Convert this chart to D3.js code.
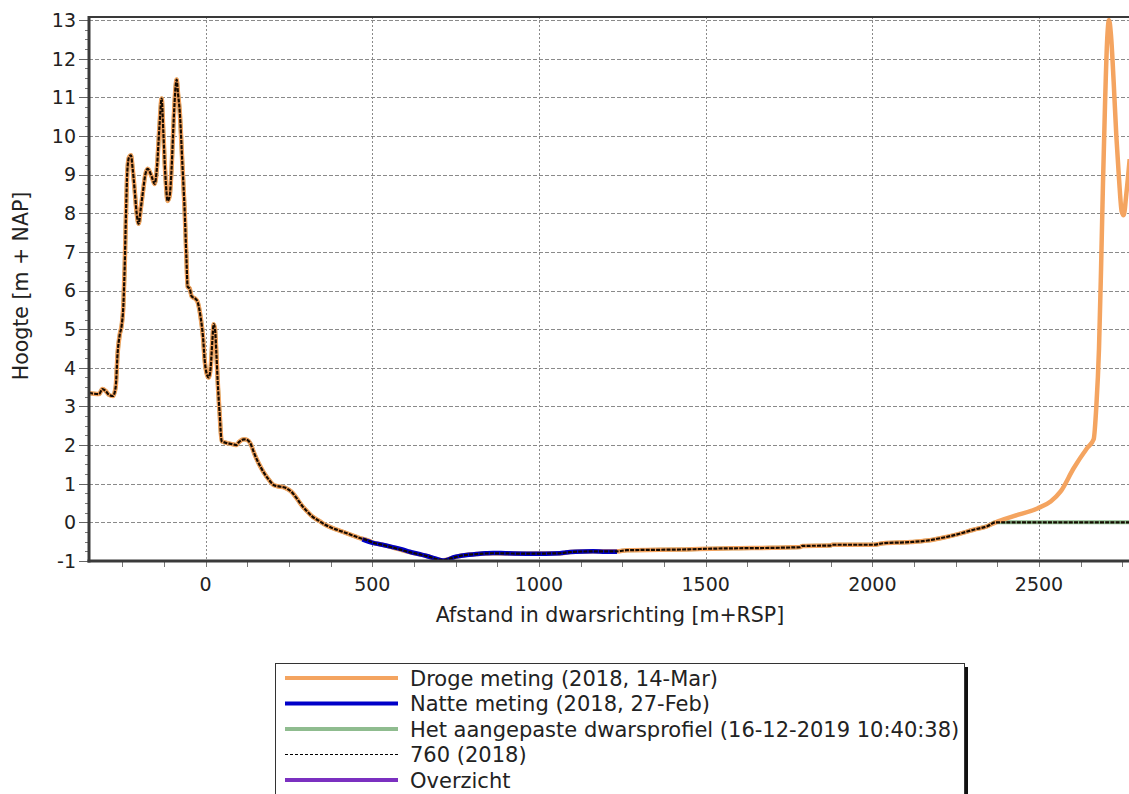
<!DOCTYPE html>
<html>
<head>
<meta charset="utf-8">
<script src="https://cdn.jsdelivr.net/npm/d3@7"></script>
<style>
  body { margin: 0; background: #fff; }
  svg text { font-family: "DejaVu Sans", Verdana, sans-serif; fill: #222; }
</style>
</head>
<body>
<svg id="chart" width="1129" height="794"></svg>
<script>
// Droge meting (2018, 14-Mar): afstand [m+RSP] en hoogte [m + NAP]
const drogeAfstand = [-350,-335,-320,-310,-300,-290,-278,-270,-264,-258,-252,-247,-243,-239,-235,-230,-224,-219,-213,-207,-201,-195,-189,-181,-174,-162,-153,-146,-139,-132,-127,-121,-114,-108,-102,-96,-90,-87,-83,-78,-70,-63,-58,-54,-48,-42,-30,-24,-15,-8,-3,3,9,15,20,24,28,32,36,42,48,65,82,92,100,115,125,135,145,155,165,175,190,205,220,237,250,262,275,290,305,320,342,360,381,410,432,460,490,500,530,561,612,663,712,740,762,813,862,963,1063,1093,1162,1234,1264,1362,1440,1520,1600,1700,1784,1790,1874,1880,2003,2033,2114,2165,2204,2255,2304,2345,2370,2424,2495,2535,2565,2604,2645,2664,2672,2680,2686,2692,2698,2704,2710,2716,2724,2732,2740,2748,2754,2762,2772];
const drogeHoogte  = [3.35,3.33,3.32,3.45,3.4,3.3,3.27,3.5,4.4,4.85,5.1,5.6,6.6,8.0,9.1,9.45,9.5,9.15,8.6,8.0,7.73,8.1,8.5,9.0,9.15,8.95,8.76,9.2,10.2,10.97,10.1,9.0,8.32,8.45,9.2,10.4,11.3,11.46,11.1,10.66,9.3,8.06,6.9,6.1,6.05,5.85,5.78,5.7,5.3,4.8,4.2,3.85,3.75,4.0,4.7,5.13,5.0,4.4,3.66,2.8,2.1,2.05,2.02,2.0,2.08,2.15,2.13,2.03,1.8,1.6,1.43,1.28,1.1,0.96,0.93,0.9,0.84,0.75,0.6,0.42,0.28,0.15,0.03,-0.07,-0.15,-0.24,-0.31,-0.4,-0.48,-0.52,-0.58,-0.65,-0.77,-0.87,-0.98,-0.92,-0.87,-0.82,-0.8,-0.81,-0.8,-0.77,-0.75,-0.75,-0.72,-0.71,-0.7,-0.68,-0.67,-0.66,-0.64,-0.61,-0.6,-0.58,-0.58,-0.54,-0.51,-0.47,-0.41,-0.31,-0.19,-0.1,0.0,0.16,0.36,0.54,0.8,1.4,1.93,2.15,3.0,4.5,6.5,8.8,10.8,12.4,13.0,12.6,11.4,10.0,8.9,8.05,7.95,8.5,9.4];

// Natte meting (2018, 27-Feb)
const natteAfstand = [470,501,530,561,590,612,640,663,690,712,725,745,762,790,813,840,862,900,963,1020,1063,1080,1110,1162,1200,1234];
const natteHoogte  = [-0.44,-0.53,-0.58,-0.64,-0.7,-0.76,-0.82,-0.87,-0.94,-0.99,-0.97,-0.9,-0.87,-0.84,-0.82,-0.8,-0.79,-0.8,-0.81,-0.81,-0.8,-0.78,-0.76,-0.75,-0.76,-0.76];

// Aangepast profiel: gelijk aan de meting tot de aansluiting, daarna horizontaal op NAP
const aansluitingAfstand = 2370;
const aangepastStaartAfstand = [2770];
const aangepastStaartHoogte  = [0];

const xTicks = [0, 500, 1000, 1500, 2000, 2500];
const yTicks = [-1, 0, 1, 2, 3, 4, 5, 6, 7, 8, 9, 10, 11, 12, 13];

const legendLabels = [
  "Droge meting (2018, 14-Mar)",
  "Natte meting (2018, 27-Feb)",
  "Het aangepaste dwarsprofiel (16-12-2019 10:40:38)",
  "760 (2018)",
  "Overzicht"
];
const legendColors = ["#F4A460", "#0000C8", "#8FBC8F", "#000000", "#7B30C0"];

// ---------- layout ----------
const svg = d3.select("#chart");
const plot = { left: 89, top: 17, right: 1129, bottom: 561 };

const x = d3.scaleLinear().domain([-350, 2770]).range([plot.left, plot.right]);
const y = d3.scaleLinear().domain([-1, 13.08]).range([plot.bottom, plot.top]);

svg.append("defs").append("clipPath").attr("id", "plotClip")
  .append("rect")
  .attr("x", plot.left).attr("y", plot.top - 2)
  .attr("width", plot.right - plot.left).attr("height", plot.bottom - plot.top + 2);

// ---------- grid ----------
const grid = svg.append("g");
grid.selectAll("line.h").data(yTicks).join("line")
  .attr("x1", plot.left).attr("x2", plot.right)
  .attr("y1", d => Math.round(y(d)) + 0.5).attr("y2", d => Math.round(y(d)) + 0.5)
  .attr("stroke", "#8a8a8a").attr("stroke-width", 1).attr("stroke-dasharray", "4,2");
grid.selectAll("line.v").data(xTicks).join("line")
  .attr("y1", plot.top).attr("y2", plot.bottom)
  .attr("x1", d => Math.round(x(d)) + 0.5).attr("x2", d => Math.round(x(d)) + 0.5)
  .attr("stroke", "#8a8a8a").attr("stroke-width", 1).attr("stroke-dasharray", "2,2");

// ---------- series ----------
const droge = drogeAfstand.map((d, i) => [d, drogeHoogte[i]]);
const natte = natteAfstand.map((d, i) => [d, natteHoogte[i]]);
const aangepast = droge.filter(p => p[0] <= aansluitingAfstand)
  .concat(aangepastStaartAfstand.map((d, i) => [d, aangepastStaartHoogte[i]]));

const line = d3.line().x(d => x(d[0])).y(d => y(d[1])).curve(d3.curveMonotoneX);
const series = svg.append("g").attr("clip-path", "url(#plotClip)");

series.append("path").datum(aangepast).attr("d", line)
  .attr("fill", "none").attr("stroke", legendColors[2]).attr("stroke-width", 4);
series.append("path").datum(droge).attr("d", line)
  .attr("fill", "none").attr("stroke", legendColors[0]).attr("stroke-width", 4.5)
  .attr("stroke-linejoin", "round");
series.append("path").datum(natte).attr("d", line)
  .attr("fill", "none").attr("stroke", legendColors[1]).attr("stroke-width", 4.5)
  .attr("stroke-linejoin", "round");
series.append("path").datum(aangepast).attr("d", line)
  .attr("fill", "none").attr("stroke", "#140a00").attr("stroke-width", 2.2)
  .attr("stroke-dasharray", "4,1.2");

// ---------- axes ----------
const axisColor = "#3a3a3a";
const yMinor = d3.range(-1, 13.01, 0.25);
const xMinor = d3.range(-250, 2771, 125);

const axes = svg.append("g");
axes.selectAll("line.ym").data(yMinor).join("line")
  .attr("x1", plot.left - 4).attr("x2", plot.left)
  .attr("y1", d => Math.round(y(d)) + 0.5).attr("y2", d => Math.round(y(d)) + 0.5)
  .attr("stroke", "#777").attr("stroke-width", 1);
axes.selectAll("line.yM").data(yTicks).join("line")
  .attr("x1", plot.left - 10).attr("x2", plot.left)
  .attr("y1", d => Math.round(y(d)) + 0.5).attr("y2", d => Math.round(y(d)) + 0.5)
  .attr("stroke", "#666").attr("stroke-width", 1);
axes.selectAll("line.xm").data(xMinor).join("line")
  .attr("y1", plot.bottom).attr("y2", plot.bottom + 6)
  .attr("x1", d => Math.round(x(d)) + 0.5).attr("x2", d => Math.round(x(d)) + 0.5)
  .attr("stroke", "#777").attr("stroke-width", 1);

// frame
axes.append("line").attr("x1", plot.left).attr("x2", plot.right)
  .attr("y1", plot.top).attr("y2", plot.top).attr("stroke", axisColor).attr("stroke-width", 2);
axes.append("line").attr("x1", plot.left).attr("x2", plot.left)
  .attr("y1", plot.top - 1).attr("y2", plot.bottom + 1.5).attr("stroke", axisColor).attr("stroke-width", 3);
axes.append("line").attr("x1", plot.left - 1.5).attr("x2", plot.right)
  .attr("y1", plot.bottom).attr("y2", plot.bottom).attr("stroke", axisColor).attr("stroke-width", 3);

axes.selectAll("text.yl").data(yTicks).join("text")
  .attr("x", 76).attr("y", d => y(d)).attr("dy", "0.36em")
  .attr("text-anchor", "end").attr("font-size", 19)
  .text(d => d);
axes.selectAll("text.xl").data(xTicks).join("text")
  .attr("x", d => x(d)).attr("y", 591)
  .attr("text-anchor", "middle").attr("font-size", 19)
  .text(d => d);

svg.append("text").attr("x", 610).attr("y", 622)
  .attr("text-anchor", "middle").attr("font-size", 20.5)
  .text("Afstand in dwarsrichting [m+RSP]");
svg.append("text")
  .attr("transform", "translate(28,286) rotate(-90)")
  .attr("text-anchor", "middle").attr("font-size", 20.5)
  .text("Hoogte [m + NAP]");

// ---------- legend ----------
const lg = svg.append("g");
const box = { x: 275, y: 663, w: 689, h: 140 };
lg.append("rect").attr("x", box.x + box.w + 1).attr("y", box.y + 4)
  .attr("width", 3).attr("height", box.h).attr("fill", "#111");
lg.append("rect").attr("x", box.x + 0.5).attr("y", box.y + 0.5)
  .attr("width", box.w).attr("height", box.h)
  .attr("fill", "#fff").attr("stroke", "#333").attr("stroke-width", 1);

const rowY = i => box.y + 15 + i * 25.5;
const rows = lg.selectAll("g.row").data(legendLabels).join("g");
rows.append("line")
  .attr("x1", 285).attr("x2", 398)
  .attr("y1", (d, i) => rowY(i)).attr("y2", (d, i) => rowY(i))
  .attr("stroke", (d, i) => legendColors[i])
  .attr("stroke-width", (d, i) => i === 3 ? 1.2 : 4)
  .attr("stroke-dasharray", (d, i) => i === 3 ? "3,2" : null);
rows.append("text")
  .attr("x", 410).attr("y", (d, i) => rowY(i)).attr("dy", "0.36em")
  .attr("font-size", 21)
  .text(d => d);
</script>
</body>
</html>
